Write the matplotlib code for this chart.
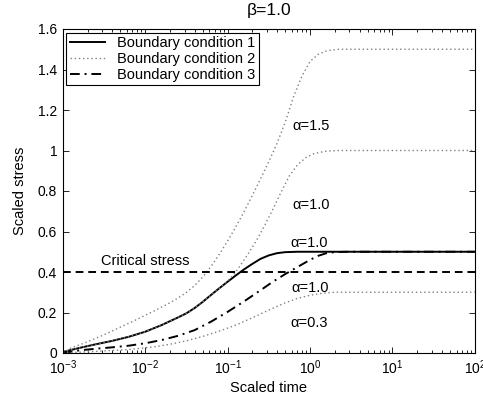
import numpy as np
import matplotlib
matplotlib.use("Agg")
import matplotlib.pyplot as plt

plt.rcParams['font.family'] = ['Liberation Sans', 'DejaVu Sans']
plt.rcParams['font.size'] = 10.5

# values: log10(scaled time) and scaled stress
bc1_a10_logt = [-3.0, -2.8, -2.6, -2.4, -2.2, -2.0, -1.8, -1.6, -1.5, -1.4, -1.3, -1.2, -1.1, -1.0,
                -0.9, -0.8, -0.7, -0.6, -0.5, -0.4, -0.3, -0.15, 2.0]
bc1_a10_s = [0.005, 0.025, 0.043, 0.06, 0.08, 0.105, 0.138, 0.176, 0.196, 0.222, 0.253, 0.287, 0.32, 0.352,
             0.383, 0.413, 0.44, 0.465, 0.482, 0.493, 0.498, 0.5, 0.5]

bc2_a15_logt = [-3.0, -2.9, -2.7, -2.5, -2.3, -2.1, -1.9, -1.7, -1.6, -1.5, -1.4, -1.3, -1.2, -1.1,
                -1.0, -0.9, -0.8, -0.7, -0.6, -0.5, -0.4, -0.3, -0.2, -0.1, 0.0, 0.1, 0.2, 0.35, 2.0]
bc2_a15_s = [0.0, 0.025, 0.055, 0.09, 0.128, 0.166, 0.206, 0.248, 0.272, 0.299, 0.333, 0.376, 0.428, 0.488,
             0.553, 0.623, 0.698, 0.778, 0.86, 0.945, 1.035, 1.14, 1.265, 1.365, 1.44, 1.475, 1.492, 1.5, 1.5]

bc2_a10_logt = [-3.0, -2.8, -2.6, -2.4, -2.2, -2.0, -1.8, -1.6, -1.5, -1.4, -1.3, -1.2, -1.1, -1.0,
                -0.93, -0.85, -0.75, -0.65, -0.55, -0.45, -0.35, -0.25, -0.15, -0.05, 0.05, 0.2, 0.35, 2.0]
bc2_a10_s = [0.005, 0.025, 0.043, 0.06, 0.08, 0.105, 0.138, 0.176, 0.196, 0.222, 0.253, 0.287, 0.32, 0.355,
             0.385, 0.43, 0.49, 0.555, 0.63, 0.71, 0.795, 0.875, 0.93, 0.965, 0.985, 0.997, 1.0, 1.0]

bc2_a03_logt = [-3.0, -2.6, -2.2, -1.9, -1.7, -1.5, -1.3, -1.1, -0.9, -0.7, -0.5, -0.3, -0.15,
                0.0, 0.15, 0.3, 2.0]
bc2_a03_s = [0.0, 0.008, 0.017, 0.03, 0.043, 0.06, 0.082, 0.108, 0.138, 0.174, 0.212, 0.248, 0.27,
             0.285, 0.295, 0.3, 0.3]

bc3_a10_logt = [-3.0, -2.8, -2.6, -2.4, -2.2, -2.0, -1.8, -1.6, -1.4, -1.2, -1.0, -0.8, -0.6,
                -0.45, -0.3, -0.15, 0.0, 0.1, 0.2, 0.3, 0.45, 2.0]
bc3_a10_s = [0.0, 0.013, 0.021, 0.028, 0.036, 0.048, 0.064, 0.085, 0.113, 0.155, 0.203, 0.255, 0.31,
             0.352, 0.39, 0.425, 0.46, 0.48, 0.493, 0.498, 0.5, 0.5]

critical_stress = 0.4

fig = plt.figure(figsize=(4.83, 4.0), dpi=100)
ax = fig.add_axes([0.130, 0.1175, 0.853, 0.81])

def t(logt):
    return 10.0 ** np.array(logt)

dot_col = '#808080'
dotted = (0, (1, 2))
ax.plot(t(bc1_a10_logt), bc1_a10_s, color='k', lw=1.4, label='Boundary condition 1')
ax.plot(t(bc2_a15_logt), bc2_a15_s, color=dot_col, lw=1.0, ls=dotted, label='Boundary condition 2')
ax.plot(t(bc3_a10_logt), bc3_a10_s, color='k', lw=1.4, ls=(0, (5, 2.5, 1, 2.5)), label='Boundary condition 3')
ax.plot(t(bc2_a10_logt), bc2_a10_s, color=dot_col, lw=1.0, ls=dotted)
ax.plot(t(bc2_a03_logt), bc2_a03_s, color=dot_col, lw=1.0, ls=dotted)
ax.axhline(critical_stress, color='k', lw=1.4, ls=(0, (4, 2.5)))

ax.set_xscale('log')
ax.set_xlim(1e-3, 1e2)
ax.set_ylim(0, 1.6)
ax.set_yticks([0, 0.2, 0.4, 0.6, 0.8, 1.0, 1.2, 1.4, 1.6])
ax.set_yticklabels(['0', '0.2', '0.4', '0.6', '0.8', '1', '1.2', '1.4', '1.6'])
ax.tick_params(which='both', direction='in', top=True, right=True, width=0.6, pad=4, labelsize=10)
ax.tick_params(which='major', length=4)
ax.tick_params(which='minor', length=2)
for s in ax.spines.values():
    s.set_linewidth(0.8)

ax.set_xlabel('Scaled time', labelpad=3)
ax.set_ylabel('Scaled stress', labelpad=8)
ax.set_title('β=1.0', pad=10)

ax.text(10 ** -2.54, 0.435, 'Critical stress')
ax.text(10 ** -0.21, 1.10, 'α=1.5')
ax.text(10 ** -0.21, 0.71, 'α=1.0')
ax.text(10 ** -0.24, 0.525, 'α=1.0')
ax.text(10 ** -0.22, 0.30, 'α=1.0')
ax.text(10 ** -0.24, 0.13, 'α=0.3')

leg = ax.legend(loc='upper left', fancybox=False, edgecolor='k', framealpha=1,
                borderaxespad=0.25, handlelength=2.4, handletextpad=0.8,
                borderpad=0.25, labelspacing=0.12)
leg.get_frame().set_linewidth(0.8)

fig.savefig('out.png', dpi=100)
